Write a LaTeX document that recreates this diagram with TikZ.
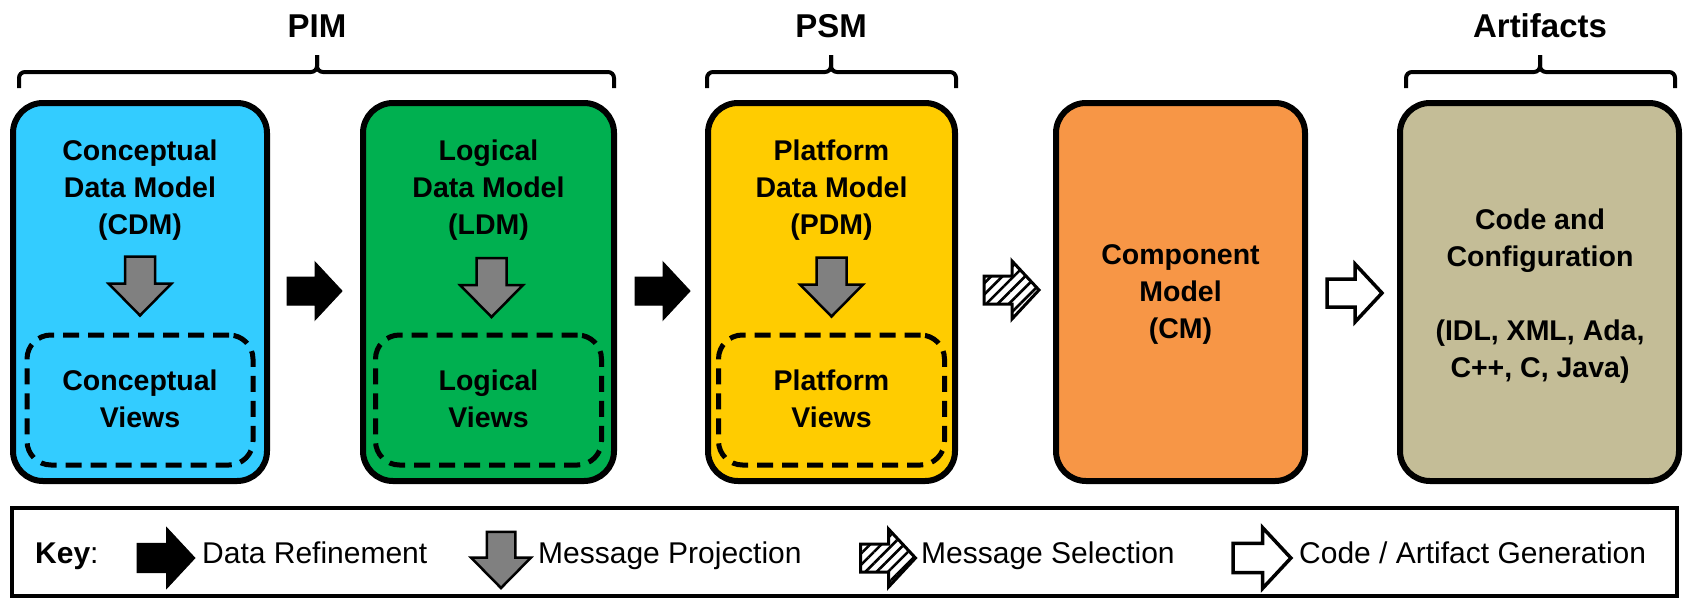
\documentclass[tikz,border=0pt]{standalone}
\usepackage{fontspec}
\setmainfont{Liberation Sans}
\usetikzlibrary{patterns.meta}
\definecolor{cdmblue}{HTML}{33CCFF}
\definecolor{ldmgreen}{HTML}{00B050}
\definecolor{pdmyellow}{HTML}{FFCC00}
\definecolor{cmorange}{HTML}{F79646}
\definecolor{arttan}{HTML}{C4BD97}
\definecolor{arrowgray}{HTML}{808080}
\begin{document}
\begin{tikzpicture}[x=1pt,y=-1pt,
  bigbox/.style={draw=black, line width=6pt, rounded corners=30pt, minimum height=378pt, inner sep=0pt},
  viewbox/.style={draw=black, line width=5pt, rounded corners=24pt, dash pattern=on 16pt off 9pt,
    minimum width=226pt, minimum height=130pt, inner sep=0pt},
  boxtext/.style={align=center, anchor=base, inner sep=0pt, font=\fontsize{28.5}{37}\selectfont\bfseries},
  headtext/.style={anchor=base, inner sep=0pt, font=\fontsize{33}{38}\selectfont\bfseries},
  keytext/.style={anchor=base west, inner sep=0pt, font=\fontsize{30}{36}\selectfont},
  bracestyle/.style={draw=black, line width=4pt, rounded corners=6pt},
  rarrow/.pic={\path[pic actions] (-27.5,-14) -- (0.5,-14) -- (0.5,-29) -- (27.5,0) -- (0.5,29) -- (0.5,14) -- (-27.5,14) -- cycle;},
  darrow/.pic={\path[pic actions] (-15,-29.5) -- (15,-29.5) -- (15,-2.5) -- (31.5,-2.5) -- (0,29.5) -- (-31.5,-2.5) -- (-15,-2.5) -- cycle;},
  refine/.style={fill=black, draw=black, line width=1pt},
  project/.style={fill=arrowgray, draw=black, line width=2.5pt, line join=miter},
  select/.style={fill=white, pattern={Lines[angle=45,distance=8pt,line width=2.6pt]}, draw=black, line width=3pt},
  generate/.style={fill=white, draw=black, line width=3.5pt}
]
\useasboundingbox (0,0) rectangle (1688,600);

% headings
\node[headtext] (pim) at (317,37) {PIM};
\node[headtext] (psm) at (831,37) {PSM};
\node[headtext] (art) at (1540,37) {Artifacts};

% braces
\draw[bracestyle] (19,88) -- (19,72) -- (317,72) -- (317,55);
\draw[bracestyle] (317,55) -- (317,72) -- (614,72) -- (614,88);
\draw[bracestyle] (707,88) -- (707,72) -- (831,72) -- (831,55);
\draw[bracestyle] (831,55) -- (831,72) -- (956,72) -- (956,88);
\draw[bracestyle] (1406,88) -- (1406,72) -- (1540,72) -- (1540,55);
\draw[bracestyle] (1540,55) -- (1540,72) -- (1675,72) -- (1675,88);

% main boxes
\node[bigbox, fill=cdmblue, minimum width=254pt] (cdm) at (140,292) {};
\node[bigbox, fill=ldmgreen, minimum width=251pt] (ldm) at (488.5,292) {};
\node[bigbox, fill=pdmyellow, minimum width=247pt] (pdm) at (831.5,292) {};
\node[bigbox, fill=cmorange, minimum width=249pt] (cm) at (1180.5,292) {};
\node[bigbox, fill=arttan, minimum width=279pt] (code) at (1539.5,292) {};

% view boxes
\node[viewbox] (cdmv) at (140,400) {};
\node[viewbox] (ldmv) at (488.5,400) {};
\node[viewbox] (pdmv) at (831.5,400) {};

% box texts (base anchor = baseline of last line)
\node[boxtext] (cdmt) at (140,234) {Conceptual\\Data Model\\(CDM)};
\node[boxtext] (ldmt) at (488.5,234) {Logical\\Data Model\\(LDM)};
\node[boxtext] (pdmt) at (831.5,234) {Platform\\Data Model\\(PDM)};
\node[boxtext] (cdmvt) at (140,427) {Conceptual\\Views};
\node[boxtext] (ldmvt) at (488.5,427) {Logical\\Views};
\node[boxtext] (pdmvt) at (831.5,427) {Platform\\Views};
\node[boxtext] (cmt) at (1180.5,338) {Component\\Model\\(CM)};
\node[boxtext] (codet) at (1540,377) {Code and\\Configuration\\[37pt](IDL, XML, Ada,\\C++, C, Java)};

% projection arrows inside boxes
\pic[project] at (140,286) {darrow};
\pic[project] at (491.5,287.5) {darrow};
\pic[project] at (831.5,287) {darrow};

% arrows between boxes
\pic[refine] at (314.5,291) {rarrow};
\pic[refine] at (662.5,291) {rarrow};
\pic[select] at (1011.5,290) {rarrow};
\pic[generate] at (1354.5,293) {rarrow};

% key
\node[draw=black, line width=4pt, minimum width=1665pt, minimum height=88pt, inner sep=0pt] (key) at (844.5,552) {};
\node[keytext] (keylbl) at (35,563) {\textbf{Key}:};
\pic[refine, scale=1.05] at (166,558) {rarrow};
\node[keytext] (k1) at (202,563) {Data Refinement};
\pic[project, scale=0.95] at (501,560) {darrow};
\node[keytext] (k2) at (538,563) {Message Projection};
\pic[select, scale=1.0] at (888,558) {rarrow};
\node[keytext] (k3) at (921,563) {Message Selection};
\pic[generate, scale=1.05] at (1262,558) {rarrow};
\node[keytext] (k4) at (1299,563) {Code / Artifact Generation};
\end{tikzpicture}
\end{document}
